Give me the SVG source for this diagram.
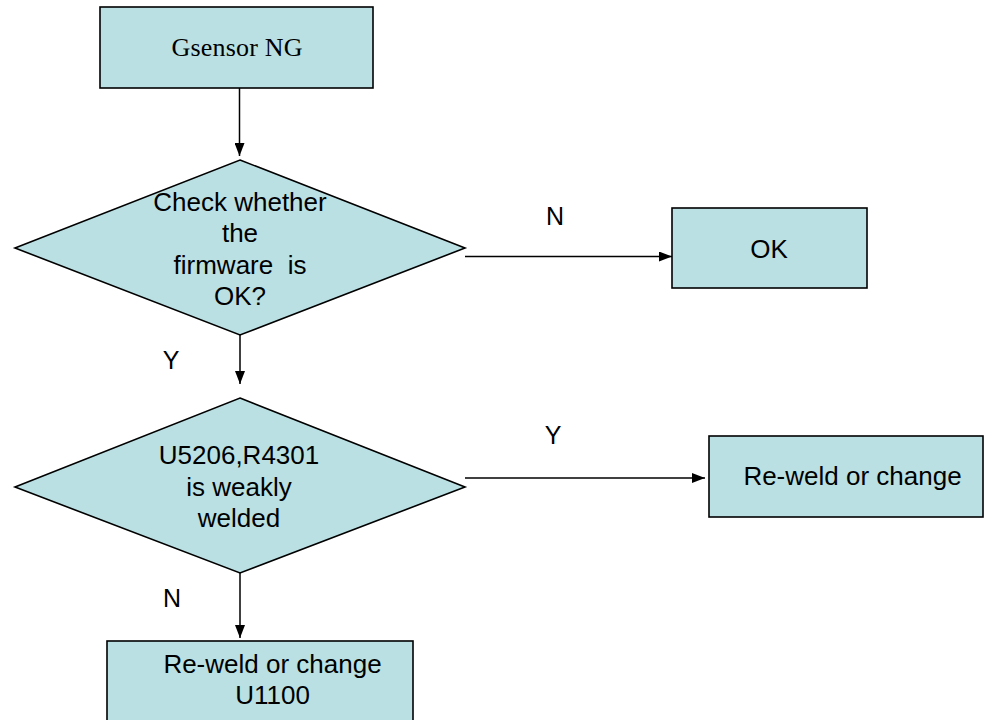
<svg xmlns="http://www.w3.org/2000/svg" width="984" height="720" viewBox="0 0 984 720">
<style>
.shape{fill:#BAE0E3;stroke:#000;stroke-width:1.6}
.t{font-family:"Liberation Sans",Arial,sans-serif;font-size:26px;fill:#000;text-anchor:middle;white-space:pre}
.lbl{font-family:"Liberation Sans",Arial,sans-serif;font-size:25px;fill:#000;text-anchor:middle}
.c{stroke:#000;stroke-width:1.5;fill:none;marker-end:url(#arr)}
</style>
<defs>
<marker id="arr" markerUnits="userSpaceOnUse" markerWidth="14" markerHeight="10" refX="13" refY="5" orient="auto">
<path d="M0,0 L13,5 L0,10 Z" fill="#000"/>
</marker>
</defs>
<rect width="984" height="720" fill="#fff"/>
<g id="connectors">
<line class="c" x1="239.5" y1="88" x2="239.5" y2="156"/>
<line class="c" x1="465" y1="256.5" x2="672" y2="256.5"/>
<line class="c" x1="240" y1="335" x2="240" y2="384"/>
<line class="c" x1="465" y1="478" x2="705" y2="478"/>
<line class="c" x1="240" y1="573" x2="240" y2="638"/>
<text class="lbl" x="555" y="225">N</text>
<text class="lbl" x="171" y="369">Y</text>
<text class="lbl" x="553" y="444">Y</text>
<text class="lbl" x="172" y="607">N</text>
</g>
<g id="start">
<rect class="shape" x="100" y="7" width="273" height="81"/>
<text x="237" y="56" font-family="'Liberation Serif','Noto Sans CJK SC',serif" font-size="26" text-anchor="middle" textLength="131" lengthAdjust="spacing">Gsensor NG</text>
</g>
<g id="check-firmware">
<polygon class="shape" points="240,160 465,248 240,335 15,248"/>
<text class="t" x="240" y="211">Check whether</text>
<text class="t" x="240" y="242">the</text>
<text class="t" x="240" y="274" xml:space="preserve">firmware  is</text>
<text class="t" x="240" y="305">OK?</text>
</g>
<g id="ok">
<rect class="shape" x="672" y="208" width="195" height="80"/>
<text class="t" x="769" y="258">OK</text>
</g>
<g id="weak-weld">
<polygon class="shape" points="240,398 465,487 240,573 15,487"/>
<text class="t" x="239" y="464">U5206,R4301</text>
<text class="t" x="239" y="496">is weakly</text>
<text class="t" x="239" y="527">welded</text>
</g>
<g id="reweld-right">
<rect class="shape" x="709" y="436" width="274" height="81"/>
<text class="t" x="852.5" y="485">Re-weld or change</text>
</g>
<g id="reweld-bottom">
<rect class="shape" x="107" y="641" width="306" height="90"/>
<text class="t" x="272.5" y="673">Re-weld or change</text>
<text class="t" x="272.5" y="704">U1100</text>
</g>
</svg>
